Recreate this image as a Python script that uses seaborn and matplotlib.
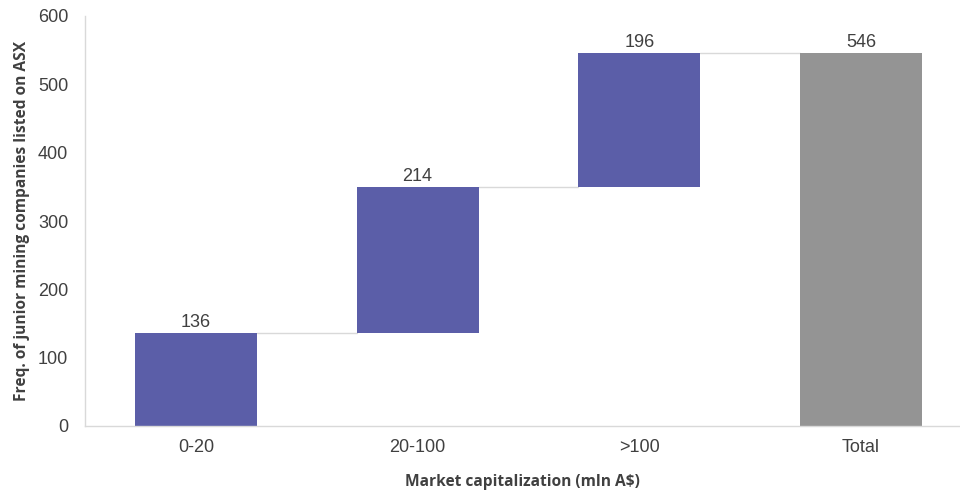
import matplotlib
matplotlib.use("Agg")
import matplotlib.pyplot as plt
import seaborn as sns
import pandas as pd

categories = ["0-20", "20-100", ">100", "Total"]
increments = [136, 214, 196]
total = 546

# Waterfall geometry: each step starts where the previous ended
bases = [0]
for v in increments[:-1]:
    bases.append(bases[-1] + v)
bases.append(0)
heights = increments + [total]
tops = [b + h for b, h in zip(bases, heights)]

df = pd.DataFrame({"cat": categories, "height": heights, "base": bases})

sns.set_theme(style="white")
plt.rcParams["font.family"] = ["Liberation Sans", "DejaVu Sans"]

fig = plt.figure(figsize=(9.6, 4.92), dpi=100)
ax = fig.add_axes([85 / 960, 1 - 426 / 492, (960 - 85) / 960, 410 / 492])

purple = "#5B5EA8"
grey = "#949494"
sns.barplot(data=df, x="cat", y="height", color=purple, saturation=1,
            bottom=df["base"].values, width=0.55, ax=ax,
            edgecolor="none", linewidth=0)
ax.patches[-1].set_facecolor(grey)

# Connector lines between consecutive bars
half = 0.55 / 2
for i in range(len(categories) - 1):
    ax.plot([i + half, i + 1 - half], [tops[i], tops[i]], color="#d9d9d9", lw=1, zorder=0)

for i, (t, h) in enumerate(zip(tops, heights)):
    ax.text(i, t + 3, f"{h}", ha="center", va="bottom", fontsize=13, color="#404040")

ax.set_ylim(0, 600)
ax.set_xlim(-0.5, 3.446)
ax.set_yticks(range(0, 601, 100))
ax.tick_params(axis="both", labelsize=13, colors="#404040", length=0)
ax.tick_params(axis="y", pad=12)
ax.tick_params(axis="x", pad=9)
for s in ["top", "right"]:
    ax.spines[s].set_visible(False)
for s in ["left", "bottom"]:
    ax.spines[s].set_color("#d9d9d9")
    ax.spines[s].set_linewidth(1)

ax.set_xlabel("Market capitalization (mln A$)", fontsize=11.2, fontweight="bold",
              color="#404040", family="Open Sans", labelpad=13)
ax.set_ylabel("Freq. of junior mining companies listed on ASX", fontsize=11.2,
              fontweight="bold", color="#404040", family="Open Sans", labelpad=6)

fig.savefig("out.png", dpi=100)
